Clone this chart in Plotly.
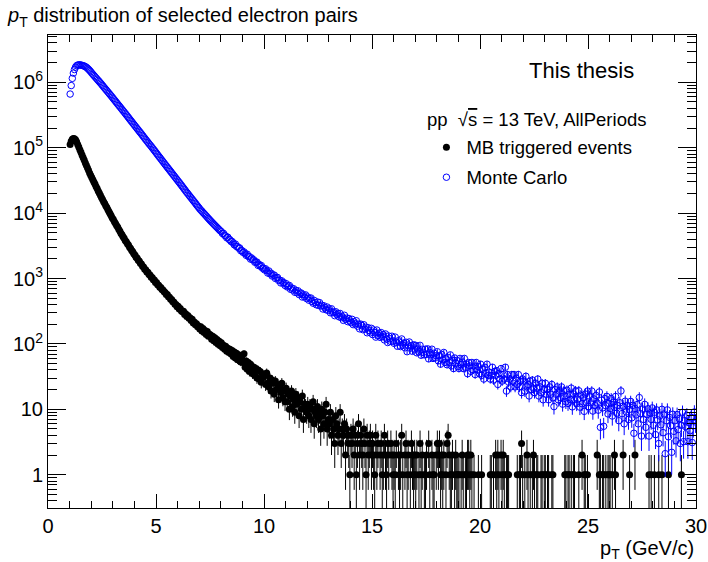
import numpy as np
import plotly.graph_objects as go

# ---------------- data ----------------
pt_min = 1.0          # lower edge of first bin (GeV/c)
bin_width = 0.05      # GeV/c

# MB triggered events: counts per bin (rows = 1 GeV/c each)
mb_counts = [
    112180, 125870, 134950, 137920, 136560, 131740, 123050, 112230, 102250, 93340, 85060, 77630, 70790, 64640, 58870, 53720, 49470, 45230, 41180, 38020,
    35080, 32450, 29960, 27740, 25570, 23720, 21860, 20330, 18720, 17370, 16080, 14970, 13990, 12960, 12130, 11240, 10520, 9740, 9120, 8450,
    7960, 7380, 6950, 6460, 6110, 5650, 5330, 4940, 4680, 4330, 4110, 3820, 3650, 3390, 3240, 3010, 2880, 2670, 2560, 2370,
    2290, 2120, 2060, 1905, 1850, 1712, 1671, 1540, 1502, 1388, 1360, 1259, 1247, 1148, 1135, 1049, 1036, 955, 947, 871,
    872, 803, 790, 735, 731, 676, 668, 625, 611, 571, 568, 525, 519, 481, 478, 442, 437, 405, 402, 371,
    378, 341, 349, 318, 309, 315, 281, 290, 262, 271, 246, 251, 228, 238, 209, 217, 196, 204, 183, 187,
    169, 183, 158, 172, 149, 160, 139, 155, 131, 141, 137, 118, 131, 112, 124, 105, 117, 99, 110, 94,
    104, 88, 95, 83, 92, 77, 86, 74, 83, 70, 79, 64, 75, 61, 72, 57, 68, 62, 53, 60,
    52, 71, 44, 55, 41, 52, 38, 49, 46, 35, 44, 33, 42, 30, 40, 29, 38, 26, 35, 31,
    33, 24, 36, 25, 22, 30, 19, 28, 25, 17, 27, 20, 24, 14, 22, 18, 25, 15, 19, 13,
    21, 13, 17, 10, 16, 19, 11, 14, 9, 17, 12, 15, 8, 13, 10, 16, 7, 12, 11, 9,
    12, 8, 11, 7, 10, 13, 6, 9, 8, 11, 7, 9, 5, 10, 8, 6, 9, 12, 5, 7,
    6, 9, 4, 7, 5, 3, 8, 6, 4, 5, 9, 3, 5, 4, 6, 2, 5, 4, 3, 1,
    4, 3, 5, 2, 4, 1, 3, 6, 2, 4, 3, 2, 5, 3, 1, 4, 2, 3, 4, 2,
    3, 2, 1, 4, 2, 3, 0, 2, 3, 1, 2, 4, 2, 1, 3, 2, 0, 3, 2, 1,
    2, 1, 3, 0, 2, 1, 2, 4, 1, 0, 2, 3, 1, 2, 0, 1, 3, 2, 1, 2,
    1, 2, 0, 1, 3, 1, 2, 0, 1, 1, 2, 0, 3, 1, 0, 2, 1, 1, 0, 2,
    3, 2, 3, 1, 2, 1, 2, 0, 1, 3, 4, 2, 1, 1, 2, 0, 1, 2, 1, 1,
    1, 0, 1, 2, 1, 0, 1, 1, 2, 2, 1, 2, 1, 0, 1, 0, 0, 0, 1, 0,
    0, 1, 0, 0, 0, 0, 0, 0, 0, 1, 1, 0, 1, 0, 2, 1, 2, 1, 0, 2,
    1, 2, 1, 0, 1, 1, 1, 0, 0, 0, 0, 0, 0, 0, 1, 0, 1, 1, 3, 1,
    0, 1, 0, 2, 1, 0, 1, 0, 1, 2, 1, 0, 1, 1, 0, 0, 1, 1, 0, 1,
    1, 0, 1, 1, 0, 0, 1, 1, 0, 0, 0, 0, 0, 0, 0, 0, 0, 0, 1, 1,
    0, 1, 1, 0, 1, 0, 1, 1, 0, 0, 0, 1, 0, 0, 2, 0, 1, 1, 0, 1,
    0, 0, 0, 0, 0, 0, 0, 0, 2, 0, 1, 1, 0, 1, 1, 0, 1, 0, 1, 1,
    1, 0, 1, 0, 2, 1, 0, 0, 0, 0, 0, 0, 2, 0, 0, 0, 0, 0, 1, 0,
    0, 0, 0, 2, 0, 0, 0, 0, 0, 0, 0, 0, 0, 0, 0, 0, 1, 0, 1, 0,
    0, 1, 0, 0, 0, 1, 0, 0, 1, 0, 0, 0, 0, 0, 1, 0, 0, 0, 0, 0,
    0, 0, 0, 0, 0, 0, 1, 0, 0, 0, 0, 0, 0, 0, 0, 0, 0, 0, 0, 0,
]

# Monte Carlo: weighted entries per bin (rows = 1 GeV/c each)
mc_values = [
    661000, 891000, 1148000, 1380000, 1567000, 1706000, 1791000, 1832000, 1849000, 1845000, 1832000, 1816000, 1795000, 1770000, 1738000, 1698000, 1641000, 1581000, 1521000, 1455000,
    1387000, 1327000, 1271000, 1216000, 1164000, 1114000, 1067000, 1021000, 977000, 935000, 893000, 853000, 815000, 778000, 743000, 710000, 678000, 647000, 618000, 590000,
    562000, 536000, 512000, 488000, 466000, 444000, 424000, 404000, 385000, 367000, 351000, 334000, 318000, 303000, 289000, 275000, 262000, 250000, 238000, 227000,
    216000, 206000, 196000, 187000, 178000, 170000, 162000, 154000, 147000, 140000, 133000, 127000, 121000, 115000, 110000, 105000, 99800, 95100, 90600, 86300,
    82000, 78200, 74300, 70800, 67300, 64100, 61000, 58100, 55200, 52600, 50100, 47800, 45500, 43400, 41300, 39400, 37500, 35700, 34000, 32400,
    30800, 29400, 27900, 26600, 25300, 24100, 22900, 21800, 20700, 19800, 18800, 17900, 17100, 16300, 15500, 14800, 14100, 13400, 12800, 12200,
    11600, 11100, 10700, 10200, 9820, 9400, 9020, 8630, 8280, 7930, 7620, 7330, 7050, 6780, 6520, 6270, 6030, 5790, 5570, 5360,
    5200, 4880, 4900, 4580, 4470, 4190, 4280, 3980, 3910, 3670, 3680, 3490, 3270, 3360, 3090, 3070, 2910, 2930, 2660, 2680,
    2510, 2550, 2400, 2260, 2350, 2170, 2160, 1980, 2060, 1930, 1930, 1770, 1790, 1780, 1590, 1640, 1540, 1580, 1440, 1440,
    1351, 1406, 1315, 1212, 1304, 1181, 1207, 1092, 1129, 1128, 1003, 1036, 1038, 933, 944, 855, 920, 852, 863, 782,
    834, 743, 765, 782, 685, 717, 666, 697, 616, 657, 605, 648, 567, 597, 600, 521, 563, 525, 561, 492,
    521, 466, 490, 503, 445, 419, 462, 427, 396, 437, 388, 427, 379, 390, 342, 382, 356, 332, 366, 325,
    344, 299, 344, 300, 309, 270, 310, 280, 292, 259, 292, 253, 262, 229, 274, 237, 247, 219, 245, 224,
    211, 238, 197, 218, 202, 226, 187, 201, 170, 201, 191, 165, 196, 168, 180, 148, 177, 160, 148, 173,
    139, 163, 149, 127, 163, 135, 146, 126, 149, 129, 139, 115, 142, 120, 105, 132, 120, 109, 131, 111,
    102, 127, 106, 92, 112, 106, 91, 119, 95, 103, 87, 106, 76, 96, 107, 86, 94, 77, 97, 83,
    95, 73, 84, 75, 95, 67, 83, 74, 68, 83, 69, 84, 59, 74, 68, 83, 60, 72, 61, 66,
    76, 55, 66, 49, 69, 57, 74, 52, 59, 48, 62, 52, 68, 46, 56, 42, 61, 51, 56, 45,
    42, 60, 48, 53, 42, 60, 44, 49, 35, 52, 46, 38, 52, 40, 46, 34, 52, 40, 45, 35,
    49, 33, 41, 29, 44, 36, 49, 33, 37, 29, 33, 44, 28, 38, 33, 39, 24, 35, 29, 42,
    27, 34, 29, 44, 19, 34, 26, 29, 22, 34, 27, 34, 22, 30, 24, 34, 22, 27, 18, 29,
    27, 19, 32, 22, 24, 16, 27, 20, 28, 21, 18, 25, 21, 29, 16, 22, 18, 25, 14, 20,
    25, 17, 20, 14, 22, 17, 24, 15, 11, 20, 17, 22, 14, 19, 15, 22, 12, 19, 16, 13,
    19.6, 12.3, 16.9, 14.1, 21.1, 10.9, 17.2, 14.0, 19.2, 12.2, 14.3, 19.2, 10.8, 16.5, 12.2, 15.0, 9.3, 17.1, 12.6, 19.0,
    11.0, 16.0, 12.6, 19.0, 9.4, 14.4, 11.4, 16.3, 12.5, 9.7, 18.4, 5.3, 13.8, 10.5, 5.5, 14.6, 11.3, 15.7, 8.5, 12.3,
    10.3, 14.6, 7.9, 12.8, 10.7, 15.7, 8.7, 11.4, 6.7, 12.6, 19.1, 8.6, 11.2, 6.0, 13.3, 9.1, 11.5, 7.0, 10.0, 13.2,
    7.4, 11.5, 4.3, 10.3, 8.2, 11.8, 6.0, 15.1, 8.6, 3.9, 10.1, 7.0, 11.9, 5.3, 8.3, 10.2, 3.9, 8.8, 7.0, 10.5,
    5.7, 9.0, 4.1, 9.8, 6.9, 3.0, 7.9, 5.8, 10.0, 4.4, 8.5, 2.1, 6.7, 9.8, 3.8, 7.5, 5.6, 2.2, 8.4, 4.6,
    6.7, 3.3, 8.3, 4.9, 7.2, 3.0, 5.7, 9.0, 3.2, 6.7, 5.4, 8.1, 3.2, 6.2, 4.7, 7.4, 3.1, 5.6, 9.1, 6.4,
]
mc_weight = 0.65   # mean MC event weight -> error = sqrt(w * N)

y_tick_vals = [1, 10, 1e2, 1e3, 1e4, 1e5, 1e6]
y_tick_text = ["1", "10", "10<sup>2</sup>", "10<sup>3</sup>", "10<sup>4</sup>", "10<sup>5</sup>", "10<sup>6</sup>"]
x_tick_vals = [0, 5, 10, 15, 20, 25, 30]

# ---------------- derived ----------------
mb = np.array(mb_counts, dtype=float)
mc = np.array(mc_values, dtype=float)
centers = pt_min + bin_width * (np.arange(len(mb)) + 0.5)

mb_mask = mb > 0
mb_x = centers[mb_mask]
mb_y = mb[mb_mask]
mb_err = np.sqrt(mb_y)

mc_err = np.sqrt(mc_weight * mc)

minor_y = [m * 10.0 ** e for e in range(-1, 7) for m in range(2, 10)]

FONT = "Liberation Sans, Arial, Helvetica, sans-serif"

fig = go.Figure()
fig.add_trace(go.Scatter(
    x=mb_x, y=mb_y, mode="markers", name="MB triggered events", legendgroup="mb",
    marker=dict(symbol="circle", size=7, color="black"),
    error_y=dict(type="data", array=mb_err, color="black", thickness=1, width=0),
))
fig.add_trace(go.Scatter(
    x=centers, y=mc, mode="markers", name="Monte Carlo", legendgroup="mc",
    marker=dict(symbol="circle-open", size=6.5, color="#0000ff", line=dict(width=1, color="#0000ff")),
    error_y=dict(type="data", array=mc_err, color="#0000ff", thickness=1, width=0),
))

fig.update_layout(
    width=708, height=562,
    margin=dict(l=48, r=12, t=35, b=54, autoexpand=False),
    paper_bgcolor="white", plot_bgcolor="white",
    font=dict(family=FONT, color="black"),
    showlegend=True,
    legend=dict(
        x=0.584, y=0.802, xanchor="left", yanchor="top",
        bgcolor="rgba(0,0,0,0)", borderwidth=0,
        font=dict(size=18.5, family=FONT),
        itemsizing="trace", tracegroupgap=3,
    ),
    title=dict(
        text="<i>p</i><sub>T</sub> distribution of selected electron pairs",
        x=8 / 708, xanchor="left", xref="container",
        y=0.985, yanchor="top", yref="container",
        font=dict(size=20, family=FONT, color="black"),
    ),
)

fig.update_xaxes(
    range=[0, 30], showgrid=False, zeroline=False, automargin=False,
    showline=True, linecolor="black", linewidth=1, mirror="ticks",
    ticks="inside", ticklen=14, tickwidth=1, tickcolor="black",
    tickmode="array", tickvals=x_tick_vals,
    tickfont=dict(size=20, family=FONT),
    minor=dict(ticks="inside", ticklen=7, tickwidth=1, tickcolor="black", dtick=1, tick0=0, showgrid=False),
)
fig.update_yaxes(
    type="log", range=[-0.509, 6.723], showgrid=False, zeroline=False, automargin=False,
    showline=True, linecolor="black", linewidth=1, mirror="ticks",
    ticks="inside", ticklen=18, tickwidth=1, tickcolor="black",
    tickmode="array", tickvals=y_tick_vals, ticktext=y_tick_text,
    tickfont=dict(size=20, family=FONT),
    minor=dict(ticks="inside", ticklen=9, tickwidth=1, tickcolor="black",
               tickmode="array", tickvals=minor_y, showgrid=False),
)

fig.add_annotation(
    text="This thesis", xref="paper", yref="paper",
    x=0.824, y=0.926, xanchor="center", yanchor="middle", showarrow=False,
    font=dict(size=22, family=FONT, color="black"),
)
fig.add_annotation(
    text="pp  √<span style='text-decoration:overline'>s</span> = 13 TeV, AllPeriods",
    xref="paper", yref="paper",
    x=0.582, y=0.822, xanchor="left", yanchor="middle", showarrow=False,
    font=dict(size=18.5, family=FONT, color="black"),
)
fig.add_annotation(
    text="p<sub>T</sub> (GeV/c)", xref="paper", yref="paper",
    x=1.0, y=-0.057, xanchor="right", yanchor="top", showarrow=False,
    font=dict(size=20, family=FONT, color="black"),
)

fig.write_html("out.html")
